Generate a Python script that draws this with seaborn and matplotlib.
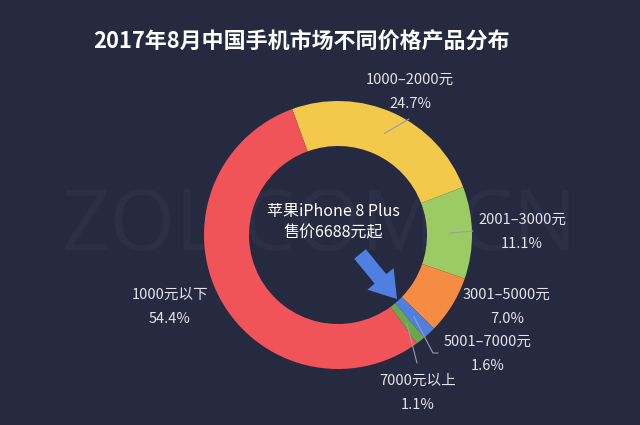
import numpy as np
import matplotlib
matplotlib.use("Agg")
import matplotlib.pyplot as plt
from matplotlib.patches import FancyArrow
import seaborn as sns

# ---- data ----
categories = ["1000–2000元", "2001–3000元", "3001–5000元", "5001–7000元", "7000元以上", "1000元以下"]
shares = [24.7, 11.1, 7.0, 1.6, 1.1, 54.4]
title = "2017年8月中国手机市场不同价格产品分布"
center_lines = ["苹果iPhone 8 Plus", "售价6688元起"]
watermark = "ZOL.COM.CN"

# ---- style ----
bg = "#262a40"
palette = sns.color_palette(["#f3c94b", "#9ccb64", "#f58c44", "#4f80e1", "#6aa84c", "#f15458"])
sns.set_theme(style="dark", rc={"axes.facecolor": bg, "figure.facecolor": bg})
plt.rcParams["font.family"] = ["Noto Sans CJK SC", "DejaVu Sans"]

W, H = 640, 425
def Y(y):
    return H - y

fig = plt.figure(figsize=(6.4, 4.25), dpi=100, facecolor=bg)
ax = fig.add_axes([0, 0, 1, 1])
ax.set_facecolor(bg)

# watermark
ax.text(320, Y(228), watermark, fontsize=61, color="#2c3047", ha="center", va="center",
        family="Open Sans", zorder=0)

cx, cy = 338, Y(235)
R, ring = 134, 45
wedges, _ = ax.pie(shares, colors=palette, startangle=110, counterclock=False,
                   radius=R, center=(cx, cy), normalize=True,
                   wedgeprops=dict(width=ring, linewidth=0))

ax.set_xlim(0, W)
ax.set_ylim(0, H)
ax.set_aspect("equal")
ax.axis("off")

# label layout (pixel positions of the name line) and leader line ends
label_pos = [(410, 80), (522, 220), (507, 295), (488, 342), (418, 381), (170, 295)]
leader_end = [[(409, 119)], [(473, 231)], None, [(433, 353), (438, 353)], [(417, 363)], None]

txt_col = "#e4e4ec"
line_col = "#9a9cab"
r_mid = R - ring / 2
for w, name, v, (lx, ly), ends in zip(wedges, categories, shares, label_pos, leader_end):
    ax.text(lx, Y(ly), name, fontsize=10.5, color=txt_col, ha="center", va="center")
    ax.text(lx, Y(ly + 24), f"{v:.1f}%", fontsize=10.5, color=txt_col, ha="center", va="center")
    if ends:
        th = np.deg2rad((w.theta1 + w.theta2) / 2)
        xs = [cx + r_mid * np.cos(th)] + [e[0] for e in ends]
        ys = [cy + r_mid * np.sin(th)] + [Y(e[1]) for e in ends]
        ax.plot(xs, ys, color=line_col, lw=0.8, zorder=5)

# title
ax.text(93, Y(42), title, fontsize=15.8, fontweight="bold", color="white", ha="left", va="center")

# center text
ax.text(333, Y(211), center_lines[0], fontsize=11.5, color="white", ha="center", va="center")
ax.text(333, Y(233), center_lines[1], fontsize=11.5, color="white", ha="center", va="center")

# arrow pointing at the 5001-7000 slice
tail = (360, 254)
tip = (397, 299)
ax.add_patch(FancyArrow(tail[0], Y(tail[1]), tip[0] - tail[0], Y(tip[1]) - Y(tail[1]),
                        width=15, head_width=34, head_length=26, length_includes_head=True,
                        color="#4f80e1", linewidth=0, zorder=6))

fig.savefig("out.png", dpi=100, facecolor=bg)
